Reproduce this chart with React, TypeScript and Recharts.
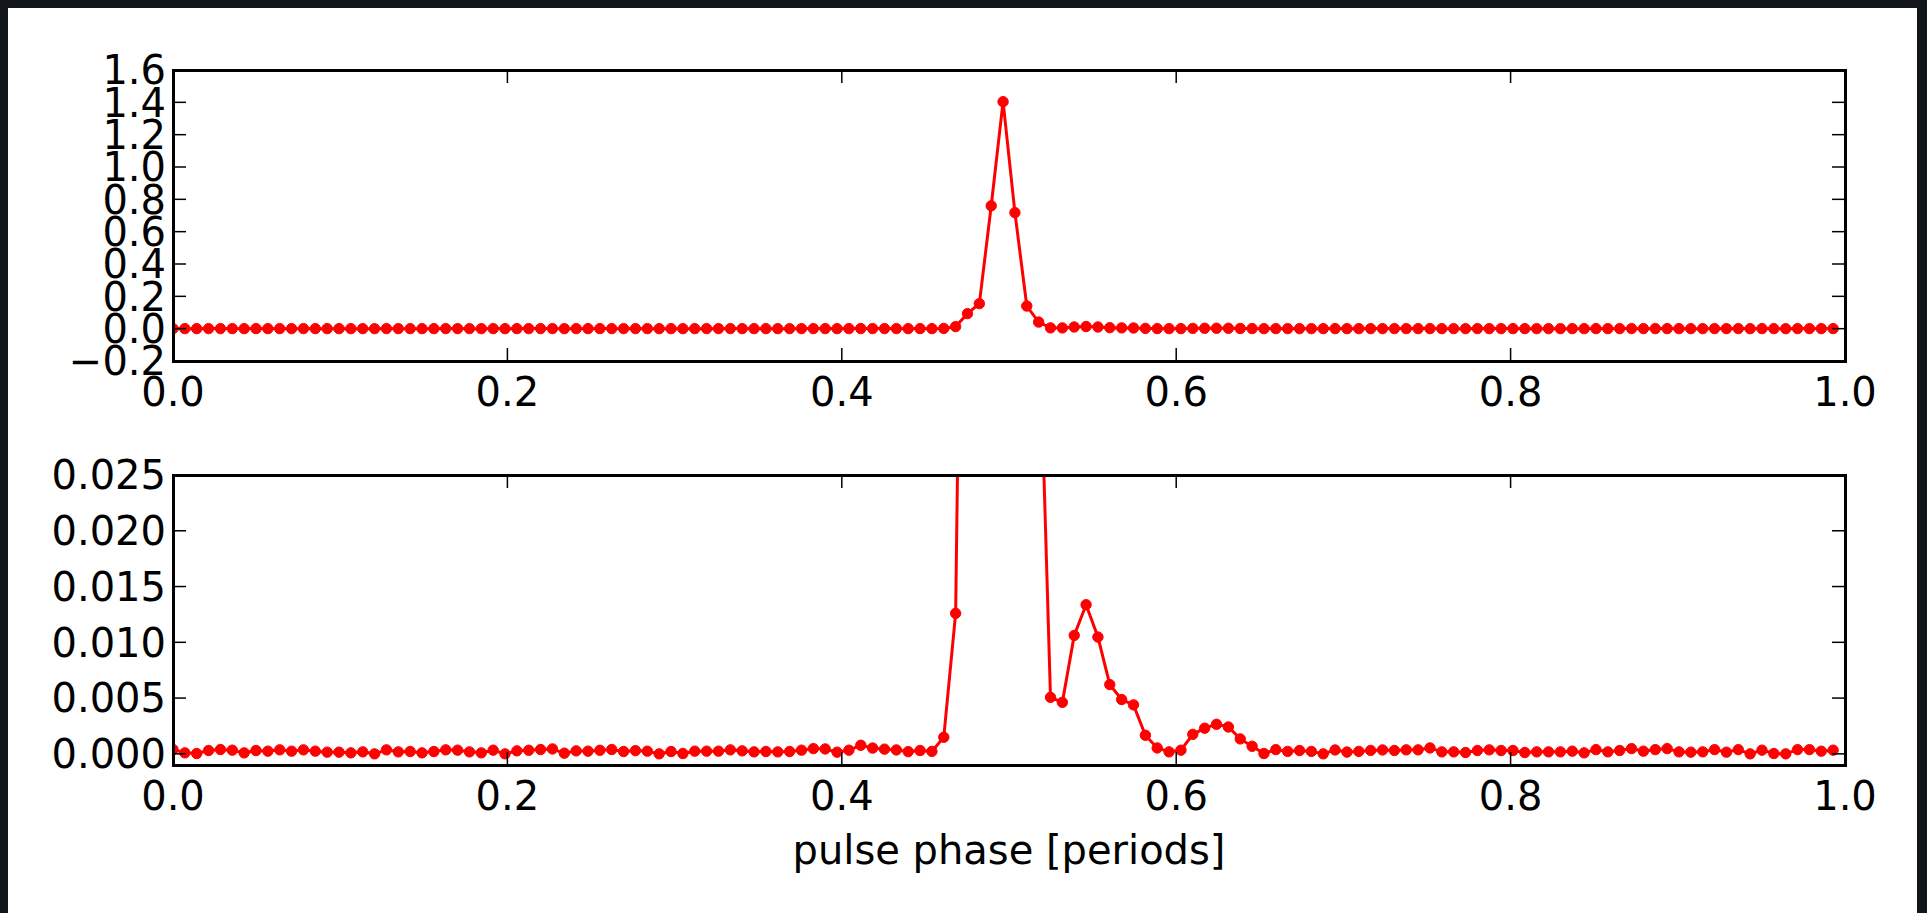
import { LineChart, Line, XAxis, YAxis } from 'recharts';

// pulse profile, one value per phase bin
const FLUX = [
  0.00039, 0.00009, 0.00003, 0.0003, 0.00039, 0.00033, 0.00009, 0.0003, 0.00024, 0.00036,
  0.00024, 0.00036, 0.00024, 0.00015, 0.00015, 0.00009, 0.00018, 0.0, 0.00036, 0.00018,
  0.00021, 0.00009, 0.00021, 0.00036, 0.00033, 0.00018, 0.00009, 0.00033, 0.0, 0.00027,
  0.00032, 0.00039, 0.00044, 0.00006, 0.00027, 0.00024, 0.00032, 0.00039, 0.00021, 0.00029,
  0.00024, 0.0, 0.00021, 0.00003, 0.00024, 0.00024, 0.00024, 0.00036, 0.00027, 0.00018,
  0.00021, 0.00018, 0.00021, 0.00033, 0.00047, 0.00044, 0.00015, 0.00033, 0.00077, 0.00052,
  0.00042, 0.00035, 0.0002, 0.0003, 0.00022, 0.00149, 0.0126, 0.093, 0.155, 0.76,
  1.404, 0.718, 0.14, 0.041, 0.00507, 0.00462, 0.01062, 0.01337, 0.01047, 0.00621,
  0.00487, 0.00439, 0.00167, 0.00053, 0.00018, 0.00033, 0.00175, 0.0023, 0.00265, 0.00241,
  0.00134, 0.00068, 0.00003, 0.00038, 0.00022, 0.0003, 0.00022, 0.0, 0.00035, 0.00016,
  0.00022, 0.00031, 0.00035, 0.0003, 0.00036, 0.00036, 0.00053, 0.00018, 0.00018, 0.00012,
  0.0003, 0.00036, 0.0003, 0.0003, 0.00012, 0.00018, 0.00018, 0.00018, 0.00024, 0.00009,
  0.00038, 0.00018, 0.0003, 0.00047, 0.00024, 0.00038, 0.00047, 0.00018, 0.00015, 0.00018,
  0.00038, 0.00015, 0.00038, 0.0, 0.00033, 0.00003, 0.0, 0.00038, 0.00038, 0.00024,
  0.00033,
];
// bin start phases
const PHASE = FLUX.map((_, i) => i / FLUX.length);

const X_TICKS = [0, 0.2, 0.4, 0.6, 0.8, 1.0];
const TOP_Y_TICKS = [-0.2, 0, 0.2, 0.4, 0.6, 0.8, 1.0, 1.2, 1.4, 1.6];
const TOP_Y_DOMAIN = [-0.2, 1.6];
const BOTTOM_Y_TICKS = [0, 0.005, 0.01, 0.015, 0.02, 0.025];
const BOTTOM_Y_DOMAIN = [-0.001, 0.025];
const X_LABEL = 'pulse phase [periods]';

const data = FLUX.map((flux, i) => ({ phase: PHASE[i], flux }));

const W = 1909;
const LEFT = 165;
const RIGHT = 72;
const PLOT_W = W - LEFT - RIGHT;
const TICK = 13;
const FONT = 'DejaVu Sans';
const FS = 40;
const RED = '#ff0000';

const fmtTop = (v: number) => (v < 0 ? '\u2212' + Math.abs(v).toFixed(1) : v.toFixed(1));
const fmtBottom = (v: number) => v.toFixed(3);

function XTick(props: any) {
  const { x, y, payload, plotH } = props;
  return (
    <g>
      <line x1={x} x2={x} y1={y} y2={y - TICK} stroke="#000" strokeWidth={1.5} />
      <line x1={x} x2={x} y1={y - plotH} y2={y - plotH + TICK} stroke="#000" strokeWidth={1.5} />
      <text x={x} y={y + 45} textAnchor="middle" fontFamily={FONT} fontSize={FS} fill="#000">
        {payload.value.toFixed(1)}
      </text>
    </g>
  );
}

function YTick(props: any) {
  const { x, y, payload, fmt } = props;
  return (
    <g>
      <line x1={x} x2={x + TICK} y1={y} y2={y} stroke="#000" strokeWidth={1.5} />
      <line x1={x + PLOT_W - TICK} x2={x + PLOT_W} y1={y} y2={y} stroke="#000" strokeWidth={1.5} />
      <text x={x - 7} y={y} dy="0.36em" textAnchor="end" fontFamily={FONT} fontSize={FS} fill="#000">
        {fmt(payload.value)}
      </text>
    </g>
  );
}

interface PanelProps {
  top: number;
  height: number;
  marginTop: number;
  xAxisHeight: number;
  domain: number[];
  yTicks: number[];
  fmt: (v: number) => string;
}

function Panel({ top, height, marginTop, xAxisHeight, domain, yTicks, fmt }: PanelProps) {
  const plotH = height - marginTop - xAxisHeight;
  return (
    <div style={{ position: 'absolute', left: 0, top, width: W, height }}>
      <LineChart width={W} height={height} data={data} margin={{ top: marginTop, right: RIGHT, bottom: 0, left: 0 }}>
        <XAxis
          type="number"
          dataKey="phase"
          domain={[0, 1]}
          ticks={X_TICKS}
          interval={0}
          allowDataOverflow
          height={xAxisHeight}
          axisLine={false}
          tickLine={false}
          tickSize={0}
          tickMargin={0}
          tick={(p: any) => <XTick {...p} plotH={plotH} />}
        />
        <YAxis
          type="number"
          domain={domain}
          ticks={yTicks}
          interval={0}
          allowDataOverflow
          width={LEFT}
          axisLine={false}
          tickLine={false}
          tickSize={0}
          tickMargin={0}
          tick={(p: any) => <YTick {...p} fmt={fmt} />}
        />
        <Line
          type="linear"
          dataKey="flux"
          stroke={RED}
          strokeWidth={3}
          dot={{ r: 5.2, fill: RED, stroke: RED, strokeWidth: 1 }}
          activeDot={false}
          isAnimationActive={false}
        />
      </LineChart>
      <div
        style={{
          position: 'absolute',
          left: LEFT - 1.5,
          top: marginTop - 1.5,
          width: PLOT_W + 3,
          height: plotH + 3,
          border: '3px solid #000',
          boxSizing: 'border-box',
          pointerEvents: 'none',
        }}
      />
    </div>
  );
}

export default function App() {
  return (
    <div style={{ position: 'fixed', left: 0, top: 0, width: 1927, height: 913, background: '#12151a' }}>
      <div style={{ position: 'absolute', left: 8, top: 8, width: W, height: 905, background: '#fff' }}>
        <Panel top={0} height={412} marginTop={62} xAxisHeight={59} domain={TOP_Y_DOMAIN} yTicks={TOP_Y_TICKS} fmt={fmtTop} />
        <Panel top={412} height={493} marginTop={55} xAxisHeight={148} domain={BOTTOM_Y_DOMAIN} yTicks={BOTTOM_Y_TICKS} fmt={fmtBottom} />
        <svg width={W} height={905} style={{ position: 'absolute', left: 0, top: 0, pointerEvents: 'none' }}>
          <text x={LEFT + PLOT_W / 2} y={856} textAnchor="middle" fontFamily={FONT} fontSize={FS} fill="#000">
            {X_LABEL}
          </text>
        </svg>
      </div>
    </div>
  );
}
